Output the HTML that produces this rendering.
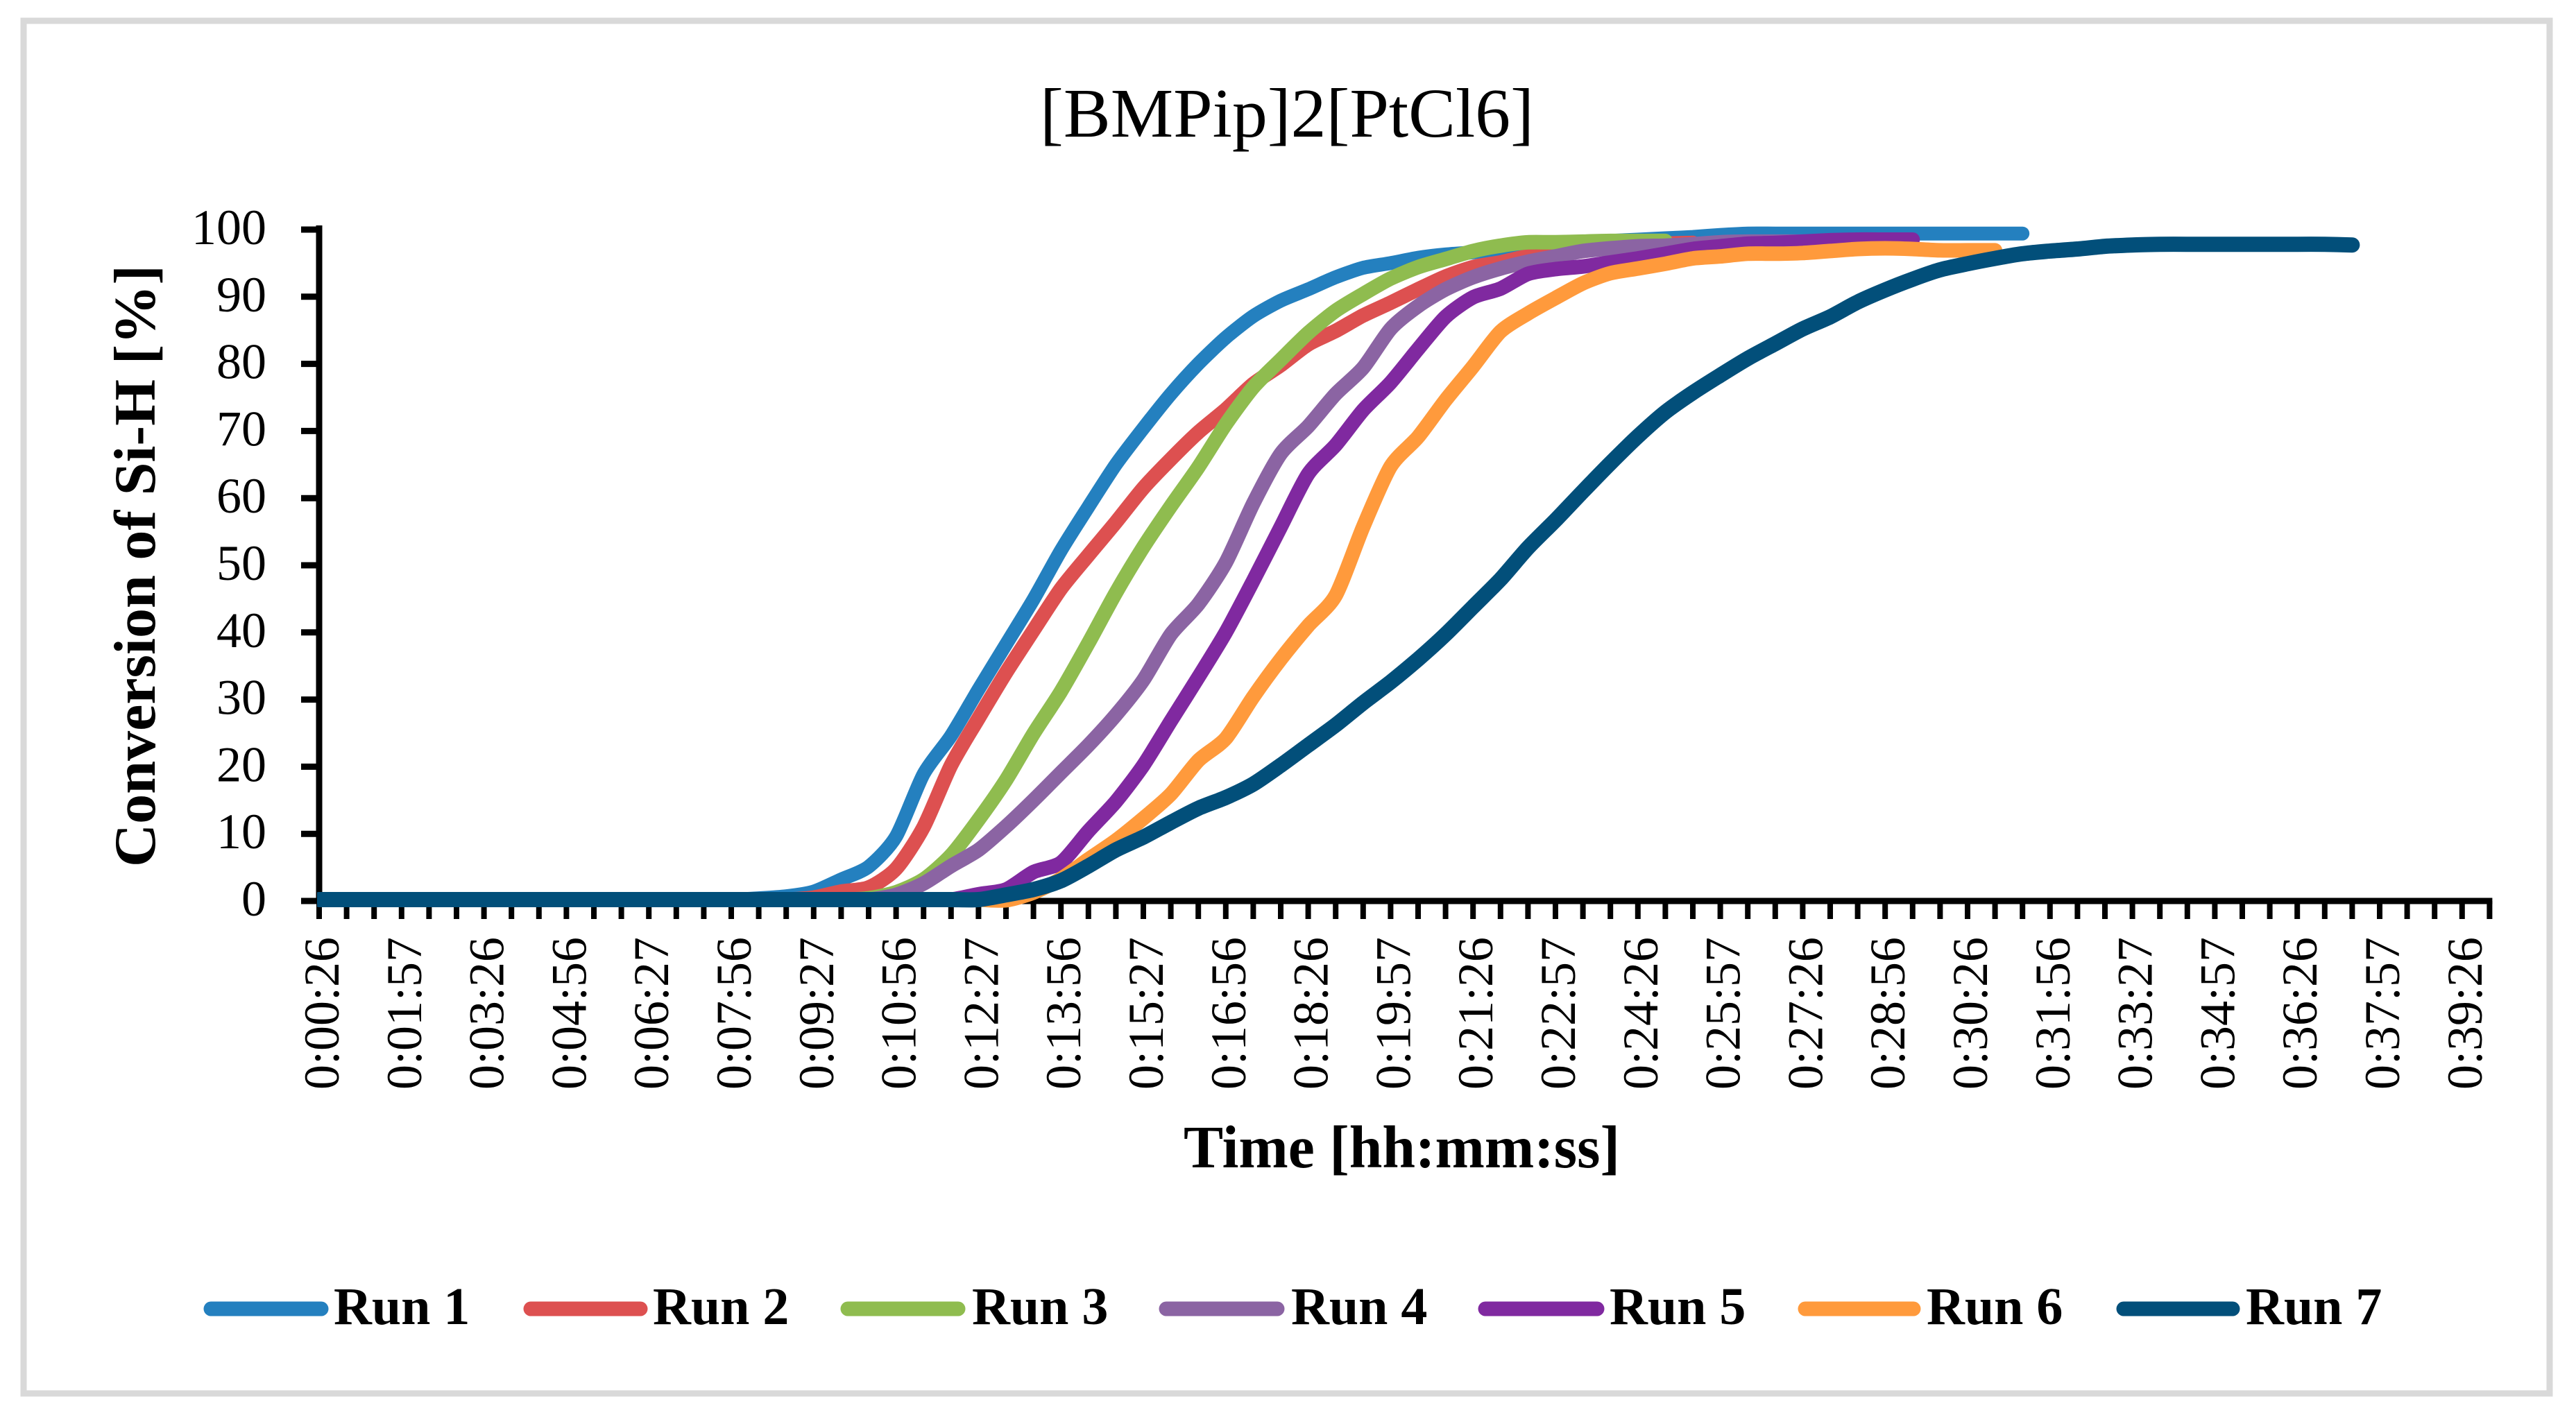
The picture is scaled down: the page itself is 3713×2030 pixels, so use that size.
<!DOCTYPE html>
<html lang="en">
<head>
<meta charset="utf-8">
<title>[BMPip]2[PtCl6] conversion chart</title>
<style>
html,body{margin:0;padding:0;background:#fff;width:3713px;height:2030px;overflow:hidden}
svg{display:block}
text{font-family:"Liberation Serif",serif;fill:#000}
.legend-text{font-size:76px;font-weight:bold}
</style>
</head>
<body>
<svg id="chart" xmlns="http://www.w3.org/2000/svg" width="3713" height="2030" viewBox="0 0 3713 2030">
  <defs>
    <clipPath id="plot-clip"><rect x="457" y="250" width="3200" height="1100"/></clipPath>
  </defs>
  <rect x="34" y="30" width="3641" height="1979" fill="#fff" stroke="#d9d9d9" stroke-width="9"/>
  <text x="1499" y="197" font-size="101" textLength="712" lengthAdjust="spacingAndGlyphs">[BMPip]2[PtCl6]</text>
  <text transform="translate(223,1250) rotate(-90)" font-size="85" font-weight="bold" textLength="868" lengthAdjust="spacingAndGlyphs">Conversion of Si-H [%]</text>
  <text x="1706" y="1683" font-size="87" font-weight="bold" textLength="629" lengthAdjust="spacingAndGlyphs">Time [hh:mm:ss]</text>
  <g id="axes"></g>
  <g id="series" clip-path="url(#plot-clip)"></g>
  <g stroke-linecap="round">
    <g><line x1="304" y1="1887" x2="463" y2="1887" stroke="#2480bf" stroke-width="21"/><text class="legend-text" x="481" y="1909" stroke="none">Run 1</text></g>
    <g><line x1="765" y1="1887" x2="923" y2="1887" stroke="#dd5050" stroke-width="21"/><text class="legend-text" x="941" y="1909" stroke="none">Run 2</text></g>
    <g><line x1="1222" y1="1887" x2="1381" y2="1887" stroke="#8fbc4f" stroke-width="21"/><text class="legend-text" x="1401" y="1909" stroke="none">Run 3</text></g>
    <g><line x1="1681" y1="1887" x2="1841" y2="1887" stroke="#8b64a3" stroke-width="21"/><text class="legend-text" x="1861" y="1909" stroke="none">Run 4</text></g>
    <g><line x1="2141" y1="1887" x2="2302" y2="1887" stroke="#8029a0" stroke-width="21"/><text class="legend-text" x="2320" y="1909" stroke="none">Run 5</text></g>
    <g><line x1="2602" y1="1887" x2="2758" y2="1887" stroke="#ff9a3c" stroke-width="21"/><text class="legend-text" x="2777" y="1909" stroke="none">Run 6</text></g>
    <g><line x1="3061" y1="1887" x2="3218" y2="1887" stroke="#024f7a" stroke-width="21"/><text class="legend-text" x="3237" y="1909" stroke="none">Run 7</text></g>
  </g>
</svg>
<script>
const yTickLabels = [0,10,20,30,40,50,60,70,80,90,100];
const xTickLabels = ["0:00:26","0:01:57","0:03:26","0:04:56","0:06:27","0:07:56","0:09:27","0:10:56","0:12:27","0:13:56","0:15:27","0:16:56","0:18:26","0:19:57","0:21:26","0:22:57","0:24:26","0:25:57","0:27:26","0:28:56","0:30:26","0:31:56","0:33:27","0:34:57","0:36:26","0:37:57","0:39:26"];
const tickCount = 80;
const labelEvery = 3;
const run1 = [0,0,0,0,0,0,0,0,0,0,0,0,0,0,0,0,0.2,0.5,1.2,3,4.9,9.4,18.7,24.4,31.3,38,44.7,52,58.5,64.8,70.2,75.3,79.8,83.7,86.9,89.2,90.9,92.7,94.1,94.8,95.6,96.1,96.4,96.9,97.6,97.8,97.9,98.1,98.3,98.5,98.7,99,99.2,99.2,99.2,99.2,99.2,99.2,99.2,99.2,99.2,99.2,99.2];
const run2 = [0,0,0,0,0,0,0,0,0,0,0,0,0,0,0,0,0,0,0.3,1.2,1.8,4.6,10.8,20,27,33.8,40.1,46.3,51.3,56.2,61.3,65.6,69.6,73,76.8,79.6,82.7,84.7,87,88.9,90.9,92.8,94.2,94.9,95.8,96,96.6,97.1,97.4,97.7,97.8];
const run3 = [0,0,0,0,0,0,0,0,0,0,0,0,0,0,0,0,0,0,0,0,0.2,1.1,3,6.6,11.9,17.8,24.7,31,38.2,45.7,52.5,58.6,64.4,70.8,76.3,80.4,84.4,87.7,90.2,92.5,94.2,95.4,96.6,97.4,97.9,97.9,98,98.1,98.1,98.1];
const run4 = [0,0,0,0,0,0,0,0,0,0,0,0,0,0,0,0,0,0,0,0,0,0.7,2.4,5,7.4,10.9,14.8,18.9,23,27.5,32.7,39.5,44,50.2,59,66.4,70.5,75.3,79.2,85,88.4,90.9,92.7,94,95,95.8,96.6,97,97.3,97.4,97.6,97.9,98,98,98,98];
const run5 = [0,0,0,0,0,0,0,0,0,0,0,0,0,0,0,0,0,0,0,0,0,0,0,0,0.8,1.5,4.1,5.5,10.2,14.6,20,26.6,33.1,39.8,47.5,55.5,63.4,67.7,72.9,77,82,86.8,89.7,91,93.2,93.9,94.3,94.9,95.5,96.2,96.9,97.3,97.7,97.8,98,98.2,98.3,98.3,98.3];
const run6 = [0,0,0,0,0,0,0,0,0,0,0,0,0,0,0,0,0,0,0,0,0,0,0,0,0,-0.1,1.05,3.1,6,8.8,12.1,15.7,20.7,24,30.2,35.8,40.8,45.3,55.5,64.5,68.9,74.4,79.4,84.6,87.3,89.6,91.8,93.3,94,94.7,95.5,95.8,96.2,96.2,96.3,96.6,96.9,97,96.9,96.7,96.7,96.7];
const run7 = [0,0,0,0,0,0,0,0,0,0,0,0,0,0,0,0,0,0,0,0,0,0,0,0,0,0.7,1.5,2.8,5,7.4,9.3,11.5,13.6,15.2,17.2,20,23,26,29.3,32.4,35.8,39.5,43.6,47.7,52.4,56.5,60.8,65,69,72.6,75.5,78.1,80.6,82.8,85,86.8,89,90.8,92.4,93.8,94.7,95.5,96.2,96.6,96.9,97.3,97.5,97.6,97.6,97.6,97.6,97.6,97.6,97.6,97.5];
const seriesNames = ["run-1","run-2","run-3","run-4","run-5","run-6","run-7"];
const seriesValues = [run1,run2,run3,run4,run5,run6,run7];
const seriesColors = ["#2480bf","#dd5050","#8fbc4f","#8b64a3","#8029a0","#ff9a3c","#024f7a"];
const seriesWidths = [20,21,21,21,21,21,22];

const NS = "http://www.w3.org/2000/svg";
const xAxisLeft = 460, tickStep = 39.6;
const yZero = 1297, yPerUnit = 9.68;
const xScale = i => xAxisLeft + i * tickStep;
const yScale = v => yZero - v * yPerUnit;
const axes = document.getElementById("axes");
const seriesGroup = document.getElementById("series");

function drawLine(parent, x1, y1, x2, y2, w) {
  const l = document.createElementNS(NS, "line");
  l.setAttribute("x1", x1); l.setAttribute("y1", y1);
  l.setAttribute("x2", x2); l.setAttribute("y2", y2);
  l.setAttribute("stroke", "#000"); l.setAttribute("stroke-width", w);
  parent.appendChild(l);
  return l;
}

function smoothPath(vals) {
  const pts = vals.map((v, i) => [xScale(i), yScale(v)]);
  let d = "M" + pts[0][0].toFixed(1) + " " + pts[0][1].toFixed(1);
  const k = 1 / 8;
  for (let i = 0; i < pts.length - 1; i++) {
    const p0 = pts[Math.max(i - 1, 0)], p1 = pts[i], p2 = pts[i + 1], p3 = pts[Math.min(i + 2, pts.length - 1)];
    d += "C" + (p1[0] + (p2[0] - p0[0]) * k).toFixed(1) + " " + (p1[1] + (p2[1] - p0[1]) * k).toFixed(1) +
         " " + (p2[0] - (p3[0] - p1[0]) * k).toFixed(1) + " " + (p2[1] - (p3[1] - p1[1]) * k).toFixed(1) +
         " " + p2[0].toFixed(1) + " " + p2[1].toFixed(1);
  }
  return d;
}

const yAxisLine = drawLine(axes, xAxisLeft, 325, xAxisLeft, 1303, 9);


const xAxisLine = drawLine(axes, xAxisLeft, 1299, xScale(tickCount - 1) + 4, 1299, 9);



yTickLabels.forEach(v => {
  const y = yZero + 2 - v * yPerUnit;
  const t = drawLine(axes, 434, y, xAxisLeft, y, 9);
  
  
  const lab = document.createElementNS(NS, "text");
  lab.setAttribute("x", 384);
  lab.setAttribute("y", y + 21);
  lab.setAttribute("font-size", 72);
  lab.setAttribute("text-anchor", "end");
  lab.textContent = v;
  
  
  axes.appendChild(lab);
});

for (let i = 0; i < tickCount; i++) {
  const t = drawLine(axes, xScale(i), 1299, xScale(i), 1325, 8);
  
  
}

xTickLabels.forEach((s, k) => {
  const lab = document.createElementNS(NS, "text");
  const x = xScale(k * labelEvery) + 28;
  lab.setAttribute("transform", "translate(" + x + ",1571) rotate(-90)");
  lab.setAttribute("font-size", 72);
  lab.textContent = s;
  
  
  axes.appendChild(lab);
});

seriesValues.forEach((vals, s) => {
  const p = document.createElementNS(NS, "path");
  p.setAttribute("d", smoothPath(vals));
  p.setAttribute("fill", "none");
  p.setAttribute("stroke", seriesColors[s]);
  p.setAttribute("stroke-width", seriesWidths[s]);
  p.setAttribute("stroke-linecap", "round");
  p.setAttribute("stroke-linejoin", "round");
  
  p.setAttribute('data-series', seriesNames[s]);
  
  seriesGroup.appendChild(p);
});
</script>
</body>
</html>
